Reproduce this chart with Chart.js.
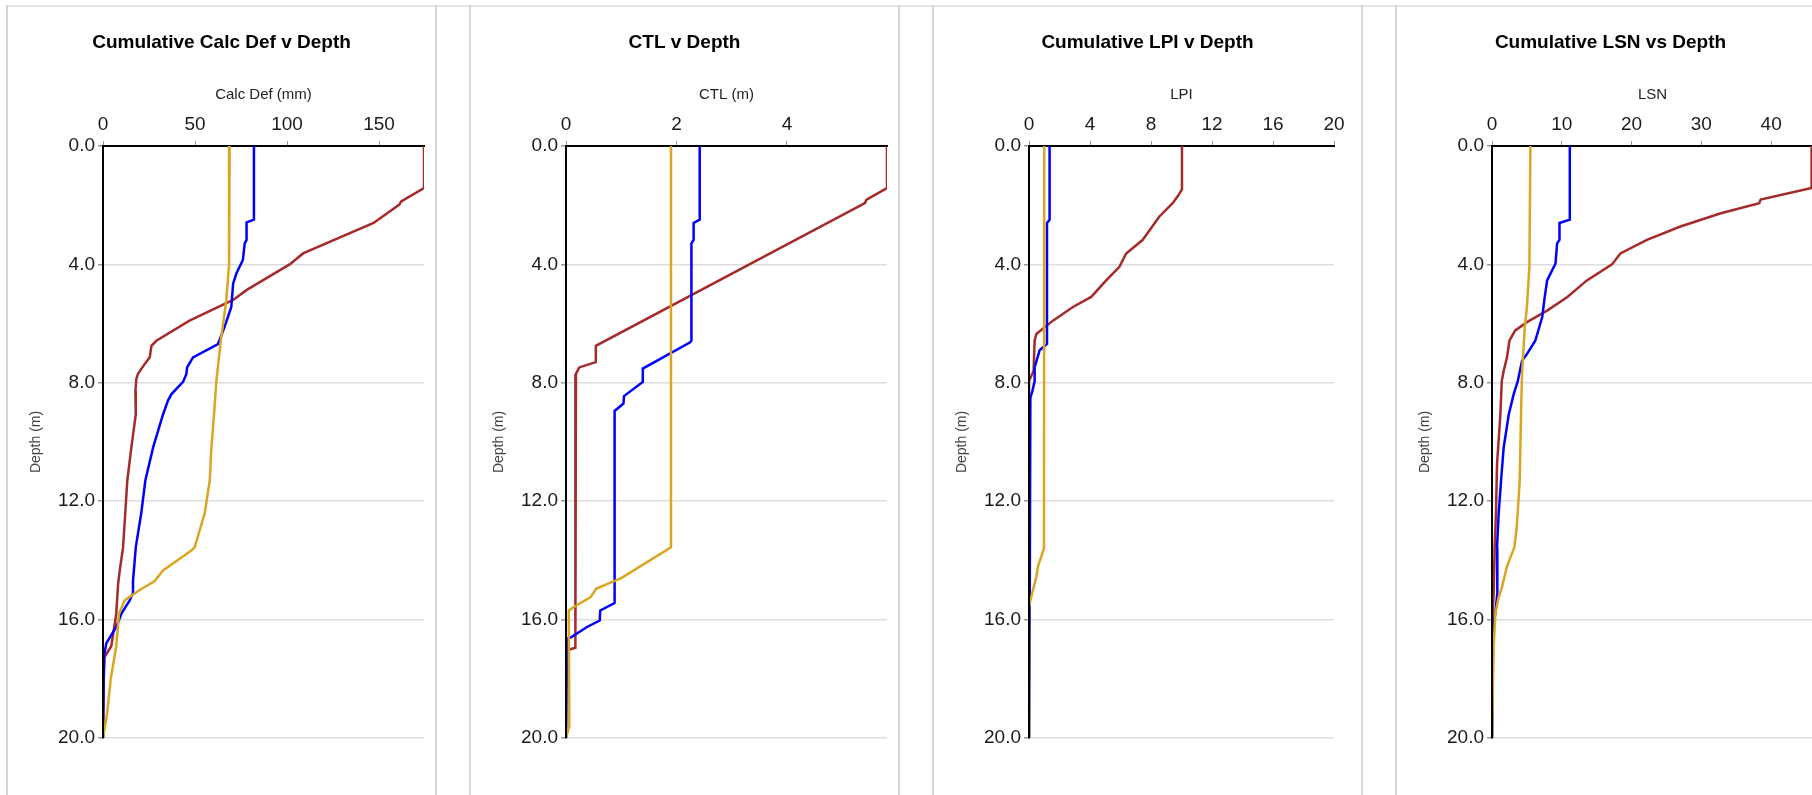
<!DOCTYPE html>
<html>
<head>
<meta charset="utf-8">
<title>Depth profiles</title>
<script src="https://cdn.jsdelivr.net/npm/chart.js@4.4.1/dist/chart.umd.min.js"></script>
<style>
  html, body { margin: 0; padding: 0; background: #fff; width: 1812px; height: 795px; overflow: hidden; }
  .topline { position: absolute; left: 7px; top: 5px; width: 1805px; height: 2px; background: #e4e4e4; }
  .card { position: absolute; top: 5px; width: 427px; height: 800px; border-left: 2px solid #d6d6d6; border-right: 2px solid #d6d6d6; }
  canvas { position: absolute; top: 0; }
</style>
</head>
<body>
<div class="topline"></div>
<script>
// ---- chart text / axes ----
const panelTitles = ['Cumulative Calc Def v Depth', 'CTL v Depth', 'Cumulative LPI v Depth', 'Cumulative LSN vs Depth'];
const xTitles = ['Calc Def (mm)', 'CTL (m)', 'LPI', 'LSN'];
const xMax = [174.4, 5.81, 20, 46];
const xStep = [50, 2, 4, 10];
const depthMin = 0;
const depthMax = 20;
const depthStep = 4;

// ---- Calc Def (mm) ----
const calcDefRedDepth = [0, 1.42, 1.87, 1.98, 2.6, 3.63, 4.0, 4.87, 5.2, 5.9, 6.58, 6.75, 7.14, 7.37, 7.7, 7.88, 8.27, 9.07, 10.19, 11.3, 12.4, 13.56, 14.34, 14.8, 15.8, 16.9, 17.26, 18.0, 20];
const calcDefRed = [174.4, 174.4, 162, 161, 147, 108.7, 101.4, 77.9, 70.7, 47, 29, 26.3, 25.4, 22.6, 19, 18.1, 17.6, 17.8, 15.4, 13.2, 12.1, 10.9, 9.1, 8.2, 7.2, 4.5, 0.9, 0.4, 0];
const calcDefBlueDepth = [0, 2.49, 2.58, 3.17, 3.29, 3.85, 4.3, 4.65, 5.44, 6.12, 6.69, 7.14, 7.48, 7.7, 7.97, 8.39, 8.6, 9.07, 10.19, 11.3, 12.4, 13.56, 14.7, 15.1, 15.35, 15.8, 16.25, 16.8, 17.26, 20];
const calcDefBlue = [82, 82, 78, 78, 77, 76, 72.5, 70.7, 69.7, 66, 62.5, 48.9, 45.7, 45.3, 43.5, 37.1, 35.3, 32.6, 27.2, 23, 20.8, 17.8, 16.3, 16.3, 14.5, 10, 7.2, 1.8, 0.5, 0];
const calcDefOrangeDepth = [0, 4.0, 5.2, 6.58, 7.94, 9.07, 10.19, 11.3, 12.4, 12.99, 13.56, 13.67, 13.9, 14.34, 14.7, 15.0, 15.35, 15.8, 16.9, 18.0, 19.2, 19.84, 20];
const calcDefOrange = [68.8, 68.5, 67, 64, 61.6, 60.3, 58.9, 58, 55.3, 52.5, 49.8, 48, 42.6, 32.6, 28.1, 19.9, 11.8, 8.7, 7.2, 4.2, 2.2, 0.4, 0];

// ---- CTL (m) ----
const ctlRedDepth = [0, 1.42, 1.81, 1.93, 6.75, 7.3, 7.48, 7.7, 7.94, 16.95, 17.05, 20];
const ctlRed = [5.81, 5.81, 5.44, 5.41, 0.54, 0.54, 0.24, 0.18, 0.17, 0.17, 0, 0];
const ctlBlueDepth = [0, 2.49, 2.6, 3.17, 3.29, 6.58, 6.64, 7.52, 7.97, 8.45, 8.7, 8.95, 15.44, 15.69, 16.03, 16.25, 16.6, 16.64, 20];
const ctlBlue = [2.42, 2.42, 2.31, 2.31, 2.27, 2.27, 2.24, 1.39, 1.39, 1.05, 1.04, 0.88, 0.88, 0.62, 0.61, 0.38, 0.09, 0.02, 0];
const ctlOrangeDepth = [0, 13.56, 14.6, 14.95, 15.25, 15.6, 15.7, 19.6, 20];
const ctlOrange = [1.9, 1.9, 1.0, 0.55, 0.44, 0.12, 0.05, 0.06, 0];

// ---- LPI ----
const lpiRedDepth = [0, 1.47, 1.7, 1.93, 2.38, 3.17, 3.63, 4.08, 4.54, 5.1, 5.44, 5.9, 6.35, 6.58, 7.6, 7.94, 20];
const lpiRed = [10.03, 10.03, 9.75, 9.42, 8.55, 7.46, 6.37, 5.93, 5.06, 4.08, 2.88, 1.57, 0.48, 0.37, 0.3, 0, 0];
const lpiBlueDepth = [0, 2.49, 2.6, 6.69, 6.9, 7.48, 7.94, 8.28, 8.5, 15.0, 15.1, 20];
const lpiBlue = [1.35, 1.35, 1.18, 1.18, 0.7, 0.37, 0.37, 0.22, 0.09, 0.05, 0, 0];
const lpiOrangeDepth = [0, 13.6, 14.2, 14.56, 15.0, 15.35, 15.6, 20];
const lpiOrange = [1.0, 0.98, 0.59, 0.48, 0.26, 0.09, 0, 0];

// ---- LSN ----
const lsnRedDepth = [0, 1.42, 1.81, 1.93, 2.27, 2.72, 3.17, 3.63, 4.0, 4.54, 5.1, 5.56, 5.95, 6.24, 6.58, 7.14, 7.6, 7.94, 9.07, 10.75, 12.4, 13.56, 15.1, 15.8, 16.2, 20];
const lsnRed = [45.8, 45.8, 38.5, 38.3, 32.8, 27, 22.2, 18.4, 17.2, 13.6, 10.8, 7.9, 5.0, 3.3, 2.5, 2.15, 1.67, 1.4, 1.2, 0.72, 0.57, 0.38, 0.24, 0.1, 0, 0];
const lsnBlueDepth = [0, 2.49, 2.6, 3.17, 3.29, 3.97, 4.54, 5.2, 5.78, 6.58, 7.03, 7.26, 7.94, 8.39, 9.07, 10.19, 11.3, 12.4, 13.56, 14.7, 15.1, 15.8, 16.0, 16.9, 19.2, 20];
const lsnBlue = [11.15, 11.15, 9.67, 9.67, 9.33, 9.1, 7.9, 7.5, 7.2, 6.2, 5.0, 4.3, 3.7, 3.1, 2.4, 1.67, 1.3, 0.96, 0.72, 0.81, 0.72, 0.48, 0.33, 0.14, 0, 0];
const lsnOrangeDepth = [0, 4.08, 5.44, 6.12, 7.7, 9.07, 11.3, 12.4, 12.99, 13.56, 14.2, 14.9, 15.24, 15.8, 16.9, 18.0, 20];
const lsnOrange = [5.5, 5.36, 5.0, 4.7, 4.3, 4.16, 3.97, 3.68, 3.5, 3.2, 2.15, 1.43, 0.96, 0.48, 0.24, 0.14, 0];

const RED = '#a52a2a';
const BLUE = '#0000ff';
const ORANGE = '#daa520';
const FONT = "'Liberation Sans', Arial, sans-serif";

const toPoints = (depths, values) => depths.map((d, i) => ({ x: values[i], y: d }));

const panelSeries = [
    [[calcDefOrangeDepth, calcDefOrange, ORANGE], [calcDefBlueDepth, calcDefBlue, BLUE], [calcDefRedDepth, calcDefRed, RED]],
    [[ctlOrangeDepth, ctlOrange, ORANGE], [ctlBlueDepth, ctlBlue, BLUE], [ctlRedDepth, ctlRed, RED]],
    [[lpiOrangeDepth, lpiOrange, ORANGE], [lpiBlueDepth, lpiBlue, BLUE], [lpiRedDepth, lpiRed, RED]],
    [[lsnOrangeDepth, lsnOrange, ORANGE], [lsnBlueDepth, lsnBlue, BLUE], [lsnRedDepth, lsnRed, RED]]
];

// black depth axis drawn again over the series
const axisLinePlugin = {
    id: 'axisLine',
    afterDatasetsDraw(chart) {
        const { ctx, chartArea } = chart;
        ctx.save();
        ctx.strokeStyle = '#000';
        ctx.lineWidth = 2;
        ctx.beginPath();
        ctx.moveTo(chartArea.left, chartArea.top);
        ctx.lineTo(chartArea.left, chartArea.bottom);
        ctx.stroke();
        ctx.restore();
    }
};

const makePanel = (i) => {
    const left = 7 + Math.round(i * 462.9);
    const card = document.createElement('div');
    card.className = 'card';
    card.style.left = (left - 1) + 'px';
    document.body.appendChild(card);

    const canvas = document.createElement('canvas');
    canvas.width = 429;
    canvas.height = 795;
    canvas.style.left = left + 'px';
    document.body.appendChild(canvas);

    // panel 3 has its plot pulled in so "20" fits at the right end
    const pad = i === 2 ? 28 : 12;

    const datasets = panelSeries[i].map(([depths, values, color]) => ({
        data: toPoints(depths, values),
        borderColor: color,
        backgroundColor: color,
        borderWidth: 2.5,
        pointRadius: 0,
        showLine: true,
        fill: false,
        tension: 0
    }));

    new Chart(canvas, {
        type: 'scatter',
        data: { datasets },
        options: {
            responsive: false,
            animation: false,
            events: [],
            layout: { padding: { top: 0, bottom: 57, left: pad, right: pad } },
            plugins: {
                legend: { display: false },
                tooltip: { enabled: false },
                title: {
                    display: true,
                    text: panelTitles[i],
                    color: '#000',
                    font: { family: FONT, size: 19, weight: 'bold' },
                    padding: { top: 31, bottom: 10 }
                }
            },
            scales: {
                x: {
                    type: 'linear',
                    position: 'top',
                    min: 0,
                    max: xMax[i],
                    ticks: {
                        stepSize: xStep[i],
                        includeBounds: false,
                        autoSkip: false,
                        maxRotation: 0,
                        color: '#1a1a1a',
                        padding: 5,
                        font: { family: FONT, size: 19 }
                    },
                    grid: { drawOnChartArea: false, tickLength: 5, tickColor: '#999' },
                    border: { color: '#000', width: 2 },
                    title: {
                        display: true,
                        text: xTitles[i],
                        color: '#222',
                        font: { family: FONT, size: 15 },
                        padding: { top: 22.2, bottom: 0 }
                    },
                    afterFit: (s) => { s.height = 82.2; }
                },
                y: {
                    type: 'linear',
                    reverse: true,
                    min: depthMin,
                    max: depthMax,
                    ticks: {
                        stepSize: depthStep,
                        color: '#1a1a1a',
                        padding: 3,
                        font: { family: FONT, size: 19 },
                        callback: (v) => v.toFixed(1)
                    },
                    grid: { color: '#ddd', lineWidth: 1.5, tickLength: 5, tickColor: '#999' },
                    border: { color: '#000', width: 2 },
                    title: {
                        display: true,
                        text: 'Depth (m)',
                        color: '#444',
                        font: { family: FONT, size: 14 },
                        padding: { top: 29 - pad - 8.4, bottom: 0 }
                    },
                    afterFit: (s) => { s.width = 96 - pad; }
                }
            }
        },
        plugins: [axisLinePlugin]
    });
};

document.addEventListener('DOMContentLoaded', () => {
    for (let i = 0; i < 4; i++) makePanel(i);
});
</script>
</body>
</html>
